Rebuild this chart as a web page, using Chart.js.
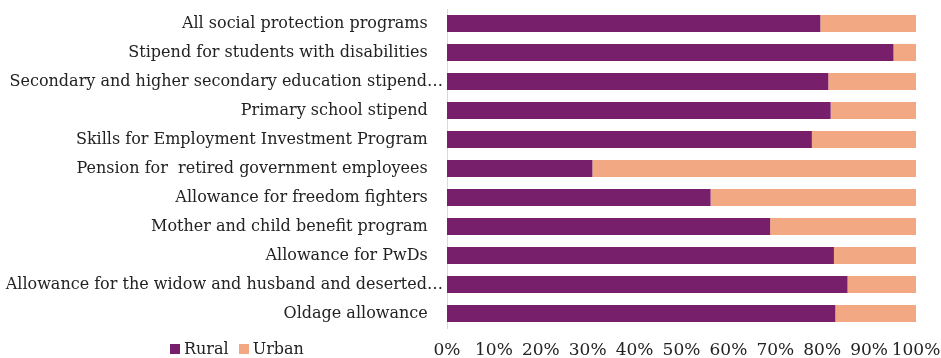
<!DOCTYPE html>
<html>
<head>
<meta charset="utf-8">
<script src="https://cdn.jsdelivr.net/npm/chart.js@4"></script>
<style>
  body { margin: 0; background: #fff; }
  #wrap { position: relative; width: 941px; height: 358px; }
  #legend { position: absolute; left: 170px; top: 339px; font: 16px "DejaVu Serif", serif; color: #222; white-space: nowrap; }
  #legend span.box { display: inline-block; width: 10px; height: 10px; margin-right: 4px; }
  #legend span.item { margin-right: 10px; }
</style>
</head>
<body>
<div id="wrap">
  <canvas id="graph_share"></canvas>
  <div id="legend"></div>
</div>
<script>
const programs = [
    'All social protection programs',
    'Stipend for students with disabilities',
    'Secondary and higher secondary education stipend…',
    'Primary school stipend',
    'Skills for Employment Investment Program',
    'Pension for  retired government employees',
    'Allowance for freedom fighters',
    'Mother and child benefit program',
    'Allowance for PwDs',
    'Allowance for the widow and husband and deserted…',
    'Oldage allowance'
];
const rural = [79.6, 95.2, 81.3, 81.8, 77.8, 31.0, 56.2, 68.9, 82.5, 85.4, 82.8];
const urban = [20.4, 4.8, 18.7, 18.2, 22.2, 69.0, 43.8, 31.1, 17.5, 14.6, 17.2];
const series_names = ['Rural', 'Urban'];
const series_colors = ['#781f6b', '#f2a983'];

const font_serif = "'DejaVu Serif', serif";
const graph_share = document.getElementById('graph_share').getContext('2d');

const share = new Chart(graph_share, {
    type: 'bar',
    data: {
        labels: programs,
        datasets: [{
            label: series_names[0],
            data: rural,
            backgroundColor: series_colors[0],
            barPercentage: 0.59,
            categoryPercentage: 1
        }, {
            label: series_names[1],
            data: urban,
            backgroundColor: series_colors[1],
            barPercentage: 0.59,
            categoryPercentage: 1
        }]
    },
    options: {
        indexAxis: 'y',
        responsive: true,
        maintainAspectRatio: false,
        animation: false,
        layout: {
            padding: 0
        },
        plugins: {
            legend: { display: false },
            tooltip: { enabled: false }
        },
        scales: {
            x: {
                stacked: true,
                min: 0,
                max: 100,
                ticks: {
                    stepSize: 10,
                    padding: 12,
                    maxRotation: 0,
                    minRotation: 0,
                    autoSkip: false,
                    color: '#222',
                    font: { family: font_serif, size: 17 },
                    callback: (v) => v + '%'
                },
                grid: { display: false, drawTicks: false },
                border: { display: false },
                afterFit: (scale) => {
                    scale.height = 30;
                    scale.paddingLeft = 0;
                    scale.paddingRight = 25;
                }
            },
            y: {
                stacked: true,
                ticks: {
                    padding: 4,
                    color: '#222',
                    font: { family: font_serif, size: 16 },
                    autoSkip: false,
                    // cut labels run up to the axis, full ones stop a bit short
                    callback: function (v) {
                        const s = this.getLabelForValue(v);
                        return s.endsWith('…') ? s : s + '   ';
                    }
                },
                grid: { display: false, drawTicks: false },
                border: { display: true, color: '#d9d9d9' },
                afterFit: (scale) => {
                    scale.width = 447;
                    scale.paddingTop = 9;
                    scale.paddingBottom = 0;
                }
            }
        }
    }
});

// legend sits on the tick row, left of the axis
const legend = document.getElementById('legend');
series_names.forEach((name, i) => {
    legend.innerHTML += `<span class="item"><span class="box" style="background:${series_colors[i]}"></span>${name}</span>`;
});
</script>
</body>
</html>
